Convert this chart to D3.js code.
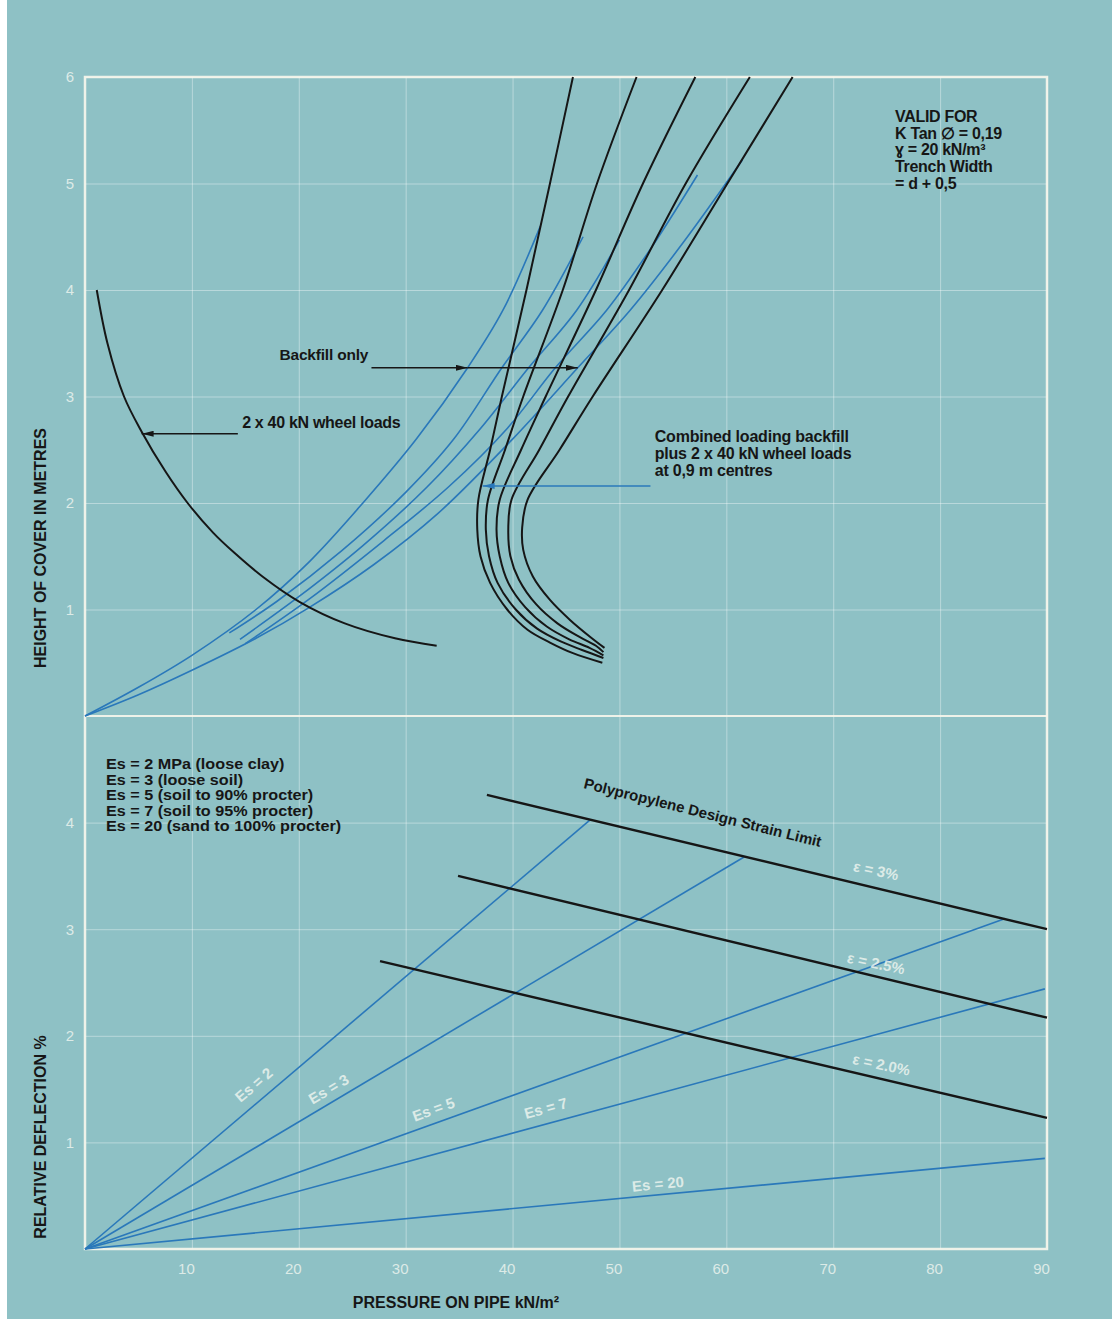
<!DOCTYPE html>
<html>
<head>
<meta charset="utf-8">
<script src="https://cdnjs.cloudflare.com/ajax/libs/d3/7.8.5/d3.min.js"></script>
<style>
body { margin: 0; background: #fff; }
svg text { font-family: "Liberation Sans", Arial, sans-serif; }
</style>
</head>
<body>
<div id="chart"></div>
<script>
// Tick values
var pressureTicks = [10, 20, 30, 40, 50, 60, 70, 80, 90];
var heightTicks = [1, 2, 3, 4, 5, 6];
var deflectionTicks = [1, 2, 3, 4];

// Top panel: [pressure kN/m2, height of cover m]
var wheelLoads = [[1.1,4.0],[2.1,3.5],[3.65,3.0],[5.3,2.67],[7.5,2.3],[9.6,2.0],[12.0,1.72],[14.0,1.53],[16.6,1.31],[20.1,1.07],[24.3,0.87],[29.0,0.73],[32.9,0.66]];

var backfill1 = [[0,0],[5,0.27],[10,0.57],[16,1.0],[21,1.45],[26,2.0],[31,2.6],[35.8,3.27],[39.1,3.81],[42.6,4.6]];
var backfill2 = [[13.5,0.78],[18,1.08],[24,1.55],[30,2.1],[34.5,2.6],[39.0,3.27],[42.8,3.81],[46.6,4.5]];
var backfill3 = [[14.5,0.72],[20,1.12],[26,1.6],[32,2.15],[37,2.7],[41.5,3.27],[46.0,3.81],[50,4.47]];
var backfill4 = [[15,0.68],[21,1.1],[28,1.65],[34,2.15],[39.5,2.7],[44,3.27],[48.8,3.81],[53,4.4],[57.3,5.08]];
var backfill5 = [[0,0],[5,0.2],[10,0.43],[16,0.73],[21,1.02],[27,1.42],[33,1.9],[40,2.6],[46.1,3.27],[51,3.81],[56,4.45],[61.5,5.22]];

var combined1 = [[45.65,6],[43.5,5],[41.3,4],[39.0,3],[37.9,2.5],[36.8,2.03],[36.7,1.75],[37.0,1.5],[37.9,1.25],[39.5,1.0],[41.4,0.81],[43.5,0.69],[45.65,0.59],[48.4,0.50]];
var combined2 = [[51.6,6],[47.9,5],[44.7,4],[41.0,3],[39.3,2.5],[37.7,2.03],[37.5,1.75],[37.8,1.5],[38.6,1.25],[40.3,1.0],[42.3,0.82],[44.5,0.70],[46.5,0.62],[48.5,0.545]];
var combined3 = [[57.1,6],[52.2,5],[47.8,4],[43.1,3],[40.8,2.5],[38.8,2.03],[38.5,1.75],[38.8,1.5],[39.6,1.25],[41.2,1.02],[43.2,0.84],[45.3,0.72],[47.2,0.64],[48.5,0.57]];
var combined4 = [[62.2,6],[56.2,5],[50.9,4],[45.2,3],[42.5,2.5],[39.9,2.03],[39.6,1.75],[39.8,1.5],[40.6,1.28],[42.2,1.05],[44.2,0.87],[46.3,0.74],[47.8,0.66],[48.5,0.60]];
var combined5 = [[66.2,6],[60.1,5],[54.0,4],[47.5,3],[44.4,2.5],[41.4,2.03],[40.9,1.77],[41.0,1.56],[41.9,1.31],[43.5,1.09],[45.4,0.90],[47.3,0.74],[48.6,0.64]];

// Bottom panel: soil modulus lines, end point [pressure, deflection %]
var esNames = ["Es = 2", "Es = 3", "Es = 5", "Es = 7", "Es = 20"];
var esEnds = [[47.2,4.02],[61.7,3.68],[86.1,3.10],[89.8,2.44],[89.8,0.85]];

// Strain limit lines
var strainNames = ["\u03b5 = 3%", "\u03b5 = 2.5%", "\u03b5 = 2.0%"];
var strainStarts = [[37.6,4.26],[34.9,3.50],[27.6,2.70]];
var strainEnds = [[90,3.00],[90,2.17],[90,1.23]];

var legendLines = ["Es = 2 MPa (loose clay)", "Es = 3 (loose soil)", "Es = 5 (soil to 90% procter)", "Es = 7 (soil to 95% procter)", "Es = 20 (sand to 100% procter)"];
var validLines = ["VALID FOR", "K Tan \u2205 = 0,19", "\u0263 = 20 kN/m\u00b3", "Trench Width", "= d + 0,5"];
var combinedLines = ["Combined loading backfill", "plus 2 x 40 kN wheel loads", "at 0,9 m centres"];

//Width and height
var w = 1112;
var h = 1319;

var x = d3.scaleLinear().domain([0, 90]).range([85, 1047]);
var yTop = d3.scaleLinear().domain([0, 6]).range([716, 77]);
var yBot = d3.scaleLinear().domain([0, 5]).range([1249, 716]);

var blue = "#2a78ba";
var black = "#161616";
var paleText = "rgba(238,245,240,0.82)";

var svg = d3.select("#chart")
            .append("svg")
            .attr("width", w)
            .attr("height", h);

// background
svg.append("rect").attr("x", 7).attr("y", 0).attr("width", w - 7).attr("height", h)
   .attr("fill", "#8ec1c5");

var defs = svg.append("defs");
function marker(id, color) {
    defs.append("marker")
        .attr("id", id)
        .attr("viewBox", "0 0 12 6")
        .attr("refX", 12).attr("refY", 3)
        .attr("markerWidth", 12).attr("markerHeight", 6)
        .attr("markerUnits", "userSpaceOnUse")
        .attr("orient", "auto")
        .append("path").attr("d", "M0,0L12,3L0,6Z").attr("fill", color);
}
marker("arrowBlack", black);
marker("arrowBlue", blue);

// grid via axes
var gridColor = "rgba(255,255,255,0.38)";
var gx = svg.append("g")
    .attr("transform", "translate(0," + yBot(0) + ")")
    .call(d3.axisBottom(x).tickValues(pressureTicks).tickFormat(d3.format("d"))
        .tickSize(-(yBot(0) - yTop(6))).tickPadding(14));
var gyTop = svg.append("g")
    .attr("transform", "translate(" + x(0) + ",0)")
    .call(d3.axisLeft(yTop).tickValues(heightTicks).tickFormat(d3.format("d"))
        .tickSize(-(x(90) - x(0))).tickPadding(11));
var gyBot = svg.append("g")
    .attr("transform", "translate(" + x(0) + ",0)")
    .call(d3.axisLeft(yBot).tickValues(deflectionTicks).tickFormat(d3.format("d"))
        .tickSize(-(x(90) - x(0))).tickPadding(11));

[gx, gyTop, gyBot].forEach(function(g) {
    g.select(".domain").remove();
    g.selectAll(".tick line").attr("stroke", gridColor).attr("stroke-width", 1);
    g.selectAll(".tick text")
        .attr("fill", paleText)
        .style("font-family", "'Liberation Sans', sans-serif")
        .style("font-size", "15px");
});
gx.selectAll(".tick text").attr("dx", -6);

// frame
var frameColor = "rgba(246,246,236,0.92)";
svg.append("rect")
   .attr("x", x(0)).attr("y", yTop(6))
   .attr("width", x(90) - x(0)).attr("height", yBot(0) - yTop(6))
   .attr("fill", "none").attr("stroke", frameColor).attr("stroke-width", 2.5);
svg.append("line")
   .attr("x1", x(0)).attr("x2", x(90))
   .attr("y1", yTop(0)).attr("y2", yTop(0))
   .attr("stroke", frameColor).attr("stroke-width", 2);

//Line generators
var topLine = d3.line()
    .x(function(d) { return x(d[0]); })
    .y(function(d) { return yTop(d[1]); })
    .curve(d3.curveCatmullRom.alpha(0.5));
var botLine = d3.line()
    .x(function(d) { return x(d[0]); })
    .y(function(d) { return yBot(d[1]); });

// backfill only (blue)
svg.selectAll("path.backfill")
    .data([backfill1, backfill2, backfill3, backfill4, backfill5])
    .enter()
    .append("path")
    .attr("class", "backfill")
    .attr("d", topLine)
    .attr("fill", "none")
    .attr("stroke", blue)
    .attr("stroke-width", 1.6);

// combined loading (black)
svg.selectAll("path.combined")
    .data([combined1, combined2, combined3, combined4, combined5])
    .enter()
    .append("path")
    .attr("class", "combined")
    .attr("d", topLine)
    .attr("fill", "none")
    .attr("stroke", black)
    .attr("stroke-width", 2);

// wheel loads
svg.append("path")
    .attr("d", topLine(wheelLoads))
    .attr("fill", "none")
    .attr("stroke", black)
    .attr("stroke-width", 2);

// Es lines
svg.selectAll("path.es")
    .data(esEnds)
    .enter()
    .append("path")
    .attr("class", "es")
    .attr("d", function(d) { return botLine([[0, 0], d]); })
    .attr("fill", "none")
    .attr("stroke", blue)
    .attr("stroke-width", 1.6);

// strain limits
svg.selectAll("path.strain")
    .data(strainStarts)
    .enter()
    .append("path")
    .attr("class", "strain")
    .attr("d", function(d, i) { return botLine([d, strainEnds[i]]); })
    .attr("fill", "none")
    .attr("stroke", black)
    .attr("stroke-width", 2.4);

// Es labels along lines
var esLabelPos = [[15.8,1.54],[22.8,1.50],[32.6,1.31],[43.1,1.32],[53.6,0.61]];
svg.selectAll("text.esLabel")
    .data(esNames)
    .enter()
    .append("text")
    .attr("class", "esLabel")
    .attr("transform", function(d, i) {
        var e = esEnds[i];
        var ang = Math.atan2(yBot(e[1]) - yBot(0), x(e[0]) - x(0)) * 180 / Math.PI;
        return "translate(" + x(esLabelPos[i][0]) + "," + yBot(esLabelPos[i][1]) + ") rotate(" + ang + ")";
    })
    .attr("text-anchor", "middle")
    .attr("dy", "0.35em")
    .attr("fill", paleText)
    .style("font-size", "15px")
    .style("font-weight", "bold")
    .text(function(d) { return d; });

// strain labels
var strainLabelPos = [[74.0,3.55],[74.0,2.68],[74.5,1.73]];
svg.selectAll("text.strainLabel")
    .data(strainNames)
    .enter()
    .append("text")
    .attr("class", "strainLabel")
    .attr("transform", function(d, i) {
        return "translate(" + x(strainLabelPos[i][0]) + "," + yBot(strainLabelPos[i][1]) + ") rotate(12)";
    })
    .attr("text-anchor", "middle")
    .attr("dy", "0.35em")
    .attr("fill", paleText)
    .style("font-size", "15px")
    .style("font-weight", "bold")
    .text(function(d) { return d; });

svg.append("text")
    .attr("transform", "translate(583,788) rotate(14)")
    .attr("fill", black)
    .style("font-size", "15px")
    .style("font-weight", "bold")
    .text("Polypropylene Design Strain Limit");

// legend (slightly widened lettering, tight leading)
svg.append("g")
    .attr("transform", "translate(106,0) scale(1.14,1)")
    .selectAll("text")
    .data(legendLines)
    .enter()
    .append("text")
    .attr("x", 0)
    .attr("y", function(d, i) { return 769 + i * 15.6; })
    .attr("fill", black)
    .style("font-size", "14.2px")
    .style("font-weight", "bold")
    .text(function(d) { return d; });

// valid-for block
svg.append("g").selectAll("text")
    .data(validLines)
    .enter()
    .append("text")
    .attr("x", 895)
    .attr("y", function(d, i) { return 122 + i * 16.7; })
    .attr("fill", black)
    .style("font-size", "16px")
    .style("font-weight", "bold")
    .style("letter-spacing", "-0.3px")
    .text(function(d) { return d; });

// combined annotation
svg.append("g").selectAll("text")
    .data(combinedLines)
    .enter()
    .append("text")
    .attr("x", x(53.3))
    .attr("y", function(d, i) { return 442 + i * 17; })
    .attr("fill", black)
    .style("font-size", "16px")
    .style("font-weight", "bold")
    .style("letter-spacing", "-0.2px")
    .text(function(d) { return d; });
svg.append("line")
    .attr("x1", x(52.9)).attr("y1", yTop(2.16))
    .attr("x2", x(37.2)).attr("y2", yTop(2.16))
    .attr("stroke", blue).attr("stroke-width", 1.6)
    .attr("marker-end", "url(#arrowBlue)");

// wheel load annotation
svg.append("text")
    .attr("x", x(14.7)).attr("y", yTop(2.70))
    .attr("fill", black)
    .style("font-size", "16px")
    .style("font-weight", "bold")
    .style("letter-spacing", "-0.3px")
    .text("2 x 40 kN wheel loads");
svg.append("line")
    .attr("x1", x(14.3)).attr("y1", yTop(2.65))
    .attr("x2", x(5.3)).attr("y2", yTop(2.65))
    .attr("stroke", black).attr("stroke-width", 1.6)
    .attr("marker-end", "url(#arrowBlack)");

// backfill only annotation
svg.append("text")
    .attr("x", x(18.2)).attr("y", yTop(3.34))
    .attr("fill", black)
    .style("font-size", "15.5px")
    .style("font-weight", "bold")
    .style("letter-spacing", "-0.2px")
    .text("Backfill only");
svg.append("line")
    .attr("x1", x(26.8)).attr("y1", yTop(3.27))
    .attr("x2", x(35.8)).attr("y2", yTop(3.27))
    .attr("stroke", black).attr("stroke-width", 1.6)
    .attr("marker-end", "url(#arrowBlack)");
svg.append("line")
    .attr("x1", x(35.8)).attr("y1", yTop(3.27))
    .attr("x2", x(46.1)).attr("y2", yTop(3.27))
    .attr("stroke", black).attr("stroke-width", 1.6)
    .attr("marker-end", "url(#arrowBlack)");

// axis titles
svg.append("text")
    .attr("transform", "translate(46,548) rotate(-90)")
    .attr("text-anchor", "middle")
    .attr("fill", black)
    .style("font-size", "16px")
    .style("font-weight", "bold")
    .text("HEIGHT OF COVER IN METRES");
svg.append("text")
    .attr("transform", "translate(46,1137) rotate(-90)")
    .attr("text-anchor", "middle")
    .attr("fill", black)
    .style("font-size", "16px")
    .style("font-weight", "bold")
    .text("RELATIVE DEFLECTION %");
svg.append("text")
    .attr("x", 456).attr("y", 1308)
    .attr("text-anchor", "middle")
    .attr("fill", black)
    .style("font-size", "16px")
    .style("font-weight", "bold")
    .text("PRESSURE ON PIPE kN/m\u00b2");
</script>
</body>
</html>
